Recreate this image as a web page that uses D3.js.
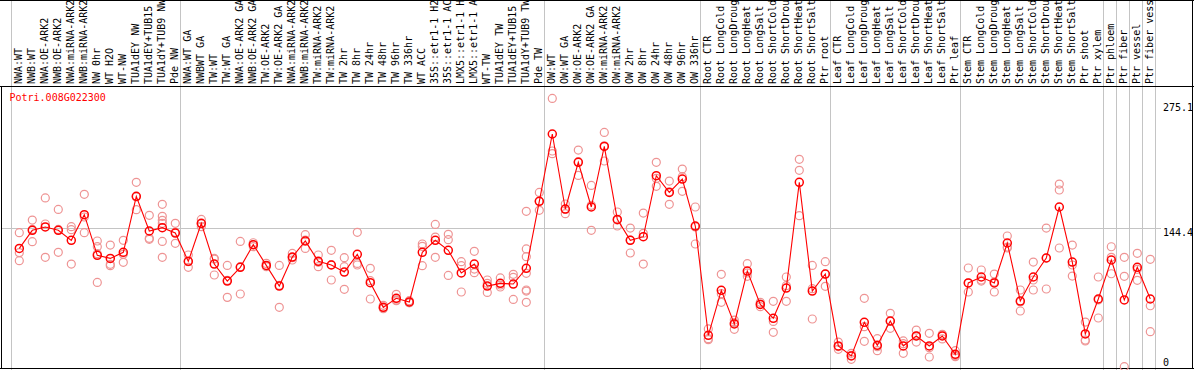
<!DOCTYPE html>
<html>
<head>
<meta charset="utf-8">
<script src="https://cdn.jsdelivr.net/npm/d3@7"></script>
<style>
	body { margin: 0; background: #fff; }
	svg { display: block; }
	text { font-family: "DejaVu Sans Mono", monospace; font-size: 10px; }
</style>
</head>
<body>
<script>
const WIDTH = 1194;
const HEIGHT = 370;

const LINE_COLOR = '#ff0000';
const REP_COLOR = '#ee9494';
const GRID_COLOR = '#c4c4c4';
const BORDER_COLOR = '#000';

const geneName = 'Potri.008G022300';

// sample labels, left to right
const categories = [
	'NWA:WT', 'NWB:WT', 'NWA:OE-ARK2', 'NWB:OE-ARK2', 'NWA:miRNA-ARK2', 'NWB:miRNA-ARK2',
	'NW 0hr', 'WT H2O', 'WT-NW', 'TUA1dEY NW', 'TUA1dEY+TUB15', 'TUA1dY+TUB9 NW', 'Pde NW',
	'NWA:WT GA', 'NWBWT GA', 'TW:WT', 'TW:WT GA', 'NWA:OE-ARK2 GA', 'NWB:OE-ARK2 GA',
	'TW:OE-ARK2', 'TW:OE-ARK2 GA', 'NWA:miRNA-ARK2', 'NWB:miRNA-ARK2', 'TW:miRNA-ARK2', 'TW:miRNA-ARK2',
	'TW 2hr', 'TW 8hr', 'TW 24hr', 'TW 48hr', 'TW 96hr', 'TW 336hr', 'WT ACC',
	'35S::etr1-1 H2', '35S::etr1-1 AC', 'LMX5::etr1-1 H', 'LMX5::etr1-1 A', 'WT-TW',
	'TUA1dEY TW', 'TUA1dEY+TUB15', 'TUA1dY+TUB9 TW', 'Pde TW',
	'OW:WT', 'OW:WT GA', 'OW:OE-ARK2', 'OW:OE-ARK2 GA', 'OW:miRNA-ARK2', 'OW:miRNA-ARK2',
	'OW 2hr', 'OW 8hr', 'OW 24hr', 'OW 48hr', 'OW 96hr', 'OW 336hr',
	'Root CTR', 'Root LongCold', 'Root LongDroug', 'Root LongHeat', 'Root LongSalt',
	'Root ShortCold', 'Root ShortDrou', 'Root ShortHeat', 'Root ShortSalt', 'Ptr root',
	'Leaf CTR', 'Leaf LongCold', 'Leaf LongDroug', 'Leaf LongHeat', 'Leaf LongSalt',
	'Leaf ShortCold', 'Leaf ShortDrou', 'Leaf ShortHeat', 'Leaf ShortSalt', 'Ptr leaf',
	'Stem CTR', 'Stem LongCold', 'Stem LongDroug', 'Stem LongHeat', 'Stem LongSalt',
	'Stem ShortCold', 'Stem ShortDrou', 'Stem ShortHeat', 'Stem ShortSalt', 'Ptr shoot',
	'Ptr xylem', 'Ptr phloem', 'Ptr fiber', 'Ptr vessel', 'Ptr fiber vess'
];

// mean expression per sample
const means = [
	123.5, 142.3, 145.8, 142.3, 131.9, 158.6, 116.3, 113.1, 119.4, 177.7, 141.6, 145.1, 139.5,
	110.0, 149.6, 107.2, 89.5, 103.8, 127.4, 105.8, 84.3, 114.5, 131.2, 110.0, 106.2,
	98.9, 117.3, 87.8, 62.1, 71.5, 67.7, 119.4, 131.9, 121.5, 97.9, 107.2, 84.3,
	87.1, 86.4, 102.7, 172.5,
	242.6, 164.5, 213.1, 166.6, 229.7, 153.7, 131.9, 135.7, 199.2, 181.8, 195.7, 146.8,
	33.0, 79.8, 44.8, 99.9, 65.2, 50.7, 82.2, 192.3, 79.1, 96.8,
	21.9, 11.5, 46.5, 22.6, 47.9, 21.9, 32.3, 21.9, 32.3, 13.2,
	87.5, 93.7, 87.5, 129.1, 68.7, 93.7, 113.5, 166.6, 109.3, 34.4,
	70.8, 111.4, 69.8, 103.8, 70.8
];

// individual replicates per sample
const replicates = [
	[139.9, 119.0, 110.7], [153.0, 130.5, 143.3], [176.0, 148.9, 114.2], [164.1, 119.4, 143.3],
	[146.1, 143.0, 107.2], [179.8, 139.9, 156.2], [131.2, 125.3, 118.0, 88.1], [127.0, 106.9, 105.5],
	[131.9, 109.0, 117.3], [192.3, 163.8, 177.0], [157.9, 132.9, 134.0],
	[169.4, 156.9, 152.7, 149.6, 130.8, 114.2], [149.6, 128.8, 140.2],
	[116.6, 109.7, 103.8], [153.7, 146.1, 148.9], [112.4, 95.8, 113.1], [105.8, 72.5, 90.2],
	[130.8, 76.0, 104.5], [129.4, 125.3, 127.4], [107.9, 104.5, 105.2], [105.8, 62.1, 85.0],
	[118.3, 111.4, 113.8], [137.8, 123.5, 132.2], [116.6, 104.5, 109.0], [121.5, 90.6, 106.5],
	[113.8, 104.5, 80.9], [140.2, 107.9, 106.2], [102.7, 70.8, 89.9], [64.2, 60.7, 61.4],
	[75.7, 69.1, 69.8], [69.1, 67.0, 67.0], [128.1, 125.6, 105.5], [148.5, 135.3, 114.2],
	[138.1, 132.6, 95.4], [109.7, 105.5, 78.1], [120.4, 102.0, 98.2], [90.6, 87.1, 77.7],
	[92.7, 85.4, 83.3], [96.5, 93.4, 70.4], [162.1, 122.9, 114.9, 97.5, 80.2, 79.1, 67.3],
	[181.8, 163.1, 172.5],
	[279.7, 224.9, 222.1], [169.7, 159.6, 164.1], [225.9, 199.5, 213.8], [189.1, 142.3, 168.3],
	[244.3, 214.5, 230.4], [161.4, 146.8, 153.0], [144.7, 118.7, 132.2], [160.3, 139.2, 107.2],
	[213.1, 188.1, 196.4], [193.6, 169.4, 182.5], [206.1, 182.9, 198.2], [166.6, 128.1, 145.8],
	[39.6, 29.5, 28.5], [96.5, 76.3, 67.3], [48.9, 39.2, 46.2], [107.6, 94.4, 97.9],
	[67.3, 62.8, 65.6], [68.4, 36.1, 47.5], [93.7, 68.4, 84.7], [216.2, 204.8, 157.6],
	[105.8, 50.0, 81.6], [109.7, 84.0, 96.8],
	[26.0, 18.4, 21.2], [14.2, 8.0, 12.1], [71.5, 42.0, 26.7], [29.5, 17.0, 21.2],
	[55.9, 40.3, 47.5], [27.1, 14.2, 24.3], [38.5, 26.0, 32.3], [35.1, 10.4, 20.1],
	[34.0, 29.2, 33.7], [17.0, 10.8, 11.8],
	[103.1, 87.5, 78.1], [101.0, 90.6, 89.5], [96.8, 88.5, 78.1], [136.4, 124.9, 123.9],
	[80.2, 67.7, 58.3], [109.3, 90.6, 80.2], [144.7, 113.5, 81.2], [190.5, 184.3, 123.9],
	[127.0, 106.2, 94.7], [46.8, 28.1, 27.1], [93.7, 69.8, 51.0],
	[125.2, 114.2, 97.1], [114.2, 94.4, 0.3], [118.4, 90.3, 101.7], [112.1, 63.8, 36.8]
];

// index of the first sample of each group (last entry closes the final group)
const groupStarts = [0, 13, 41, 53, 63, 73, 84, 85, 86, 87, 88];

const axisTicks = [0, 144.4, 275.1];
const gridTicks = [144.4];

const svg = d3.select('body')
	.append('svg')
	.attr('width', WIDTH)
	.attr('height', HEIGHT);

const x = d3.scalePoint()
	.domain(d3.range(categories.length))
	.range([19.3, 19.3 + 13 * (categories.length - 1)]);

const y = d3.scaleLinear()
	.domain([0, 275.1])
	.range([367, 102.8]);

const sepX = i => (i < categories.length ? x(i) - 8 : x(categories.length - 1) + 5);

createSeparators();
createGrid();
createFrame();
createHeader();
createReplicates();
createMeanLine();
createAxisLabels();

function createSeparators() {
	svg.append('g')
		.selectAll('line')
		.data(groupStarts)
		.enter()
		.append('line')
		.attr('x1', d => Math.round(sepX(d)) + 0.5)
		.attr('x2', d => Math.round(sepX(d)) + 0.5)
		.attr('y1', 0)
		.attr('y2', HEIGHT)
		.attr('stroke', GRID_COLOR)
		.attr('stroke-width', 1);
}

function createGrid() {
	svg.append('g')
		.selectAll('line')
		.data(gridTicks)
		.enter()
		.append('line')
		.attr('x1', 1)
		.attr('x2', 1161)
		.attr('y1', d => Math.round(y(d)) + 0.5)
		.attr('y2', d => Math.round(y(d)) + 0.5)
		.attr('stroke', GRID_COLOR)
		.attr('stroke-width', 1);
}

function createFrame() {
	const g = svg.append('g')
		.attr('stroke', BORDER_COLOR)
		.attr('stroke-width', 1);
	g.append('line').attr('x1', 0).attr('x2', WIDTH).attr('y1', 0.5).attr('y2', 0.5);
	g.append('line').attr('x1', 0).attr('x2', WIDTH).attr('y1', 86.5).attr('y2', 86.5);
	g.append('line').attr('x1', 0).attr('x2', WIDTH).attr('y1', 368.5).attr('y2', 368.5);
	g.append('line').attr('x1', 1.5).attr('x2', 1.5).attr('y1', 86).attr('y2', 369);
	g.append('line').attr('x1', 1192.5).attr('x2', 1192.5).attr('y1', 0).attr('y2', 369);
}

function createHeader() {
	svg.append('g')
		.selectAll('text')
		.data(categories)
		.enter()
		.append('text')
		.attr('transform', (d, i) => `translate(${x(i) + 2.2},84) rotate(-90)`)
		.attr('fill', '#000')
		.text(d => d);

	svg.append('text')
		.attr('x', 9.5)
		.attr('y', 101)
		.attr('fill', LINE_COLOR)
		.text(geneName);
}

function createReplicates() {
	const pts = [];
	replicates.forEach((reps, i) => reps.forEach(v => pts.push({ i, v })));
	svg.append('g')
		.selectAll('circle')
		.data(pts)
		.enter()
		.append('circle')
		.attr('cx', d => x(d.i))
		.attr('cy', d => y(d.v))
		.attr('r', 4)
		.attr('fill', 'none')
		.attr('stroke', REP_COLOR)
		.attr('stroke-width', 1.2);
}

function createMeanLine() {
	const line = d3.line()
		.x((d, i) => x(i))
		.y(d => y(d));

	svg.append('path')
		.datum(means)
		.attr('d', line)
		.attr('fill', 'none')
		.attr('stroke', LINE_COLOR)
		.attr('stroke-width', 1.1);

	svg.append('g')
		.selectAll('circle')
		.data(means)
		.enter()
		.append('circle')
		.attr('cx', (d, i) => x(i))
		.attr('cy', d => y(d))
		.attr('r', 4)
		.attr('fill', 'none')
		.attr('stroke', LINE_COLOR)
		.attr('stroke-width', 1.5);
}

function createAxisLabels() {
	svg.append('g')
		.selectAll('text')
		.data(axisTicks)
		.enter()
		.append('text')
		.attr('x', 1163)
		.attr('y', d => Math.min(y(d) + 8, 366))
		.attr('fill', '#000')
		.text(d => d);
}
</script>
</body>
</html>
